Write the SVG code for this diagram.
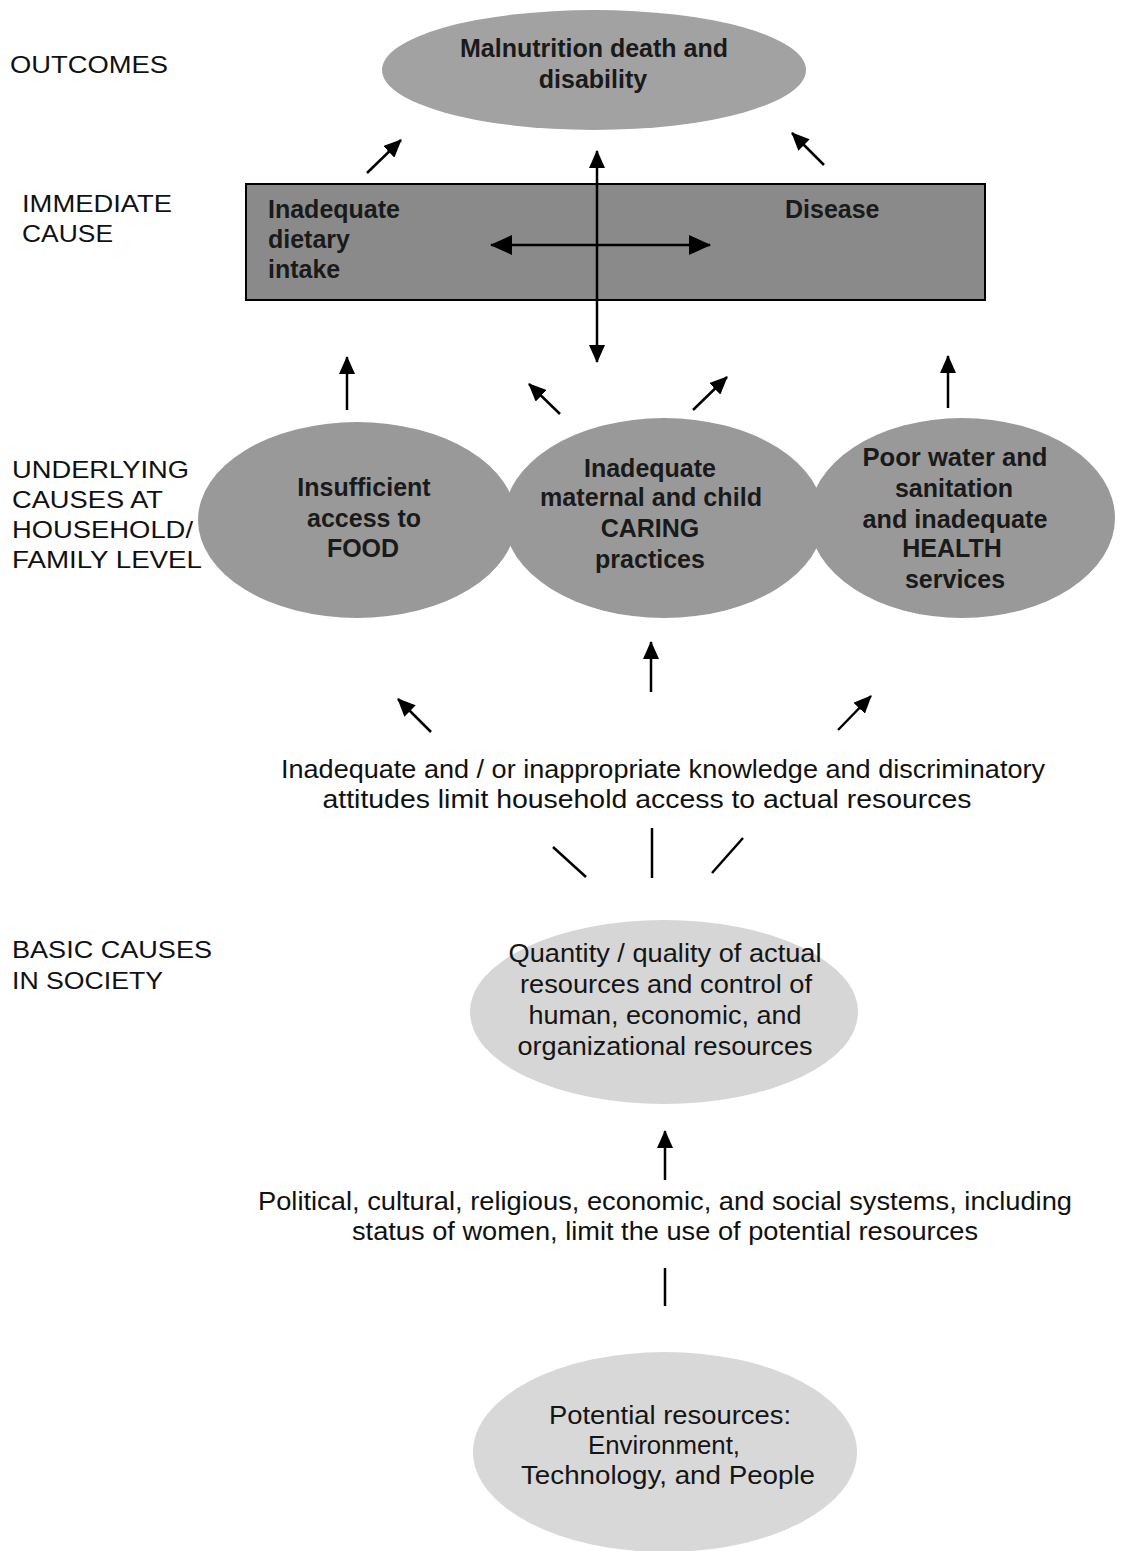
<svg xmlns="http://www.w3.org/2000/svg" width="1136" height="1551" viewBox="0 0 1136 1551">
<style>
text{font-family:"Liberation Sans",Arial,sans-serif;fill:#111}
.lbl{font-size:24px}
.nb{font-size:25px;font-weight:bold;fill:#1a1a1a;text-anchor:middle}
.nbl{font-size:25px;font-weight:bold;fill:#1a1a1a}
.body{font-size:25px;text-anchor:middle}
.lt{font-size:25px;text-anchor:middle;fill:#151515}
.conn{stroke:#000;stroke-width:2.5;fill:none}
</style>
<defs>
<marker id="ah" markerUnits="userSpaceOnUse" markerWidth="18" markerHeight="16" refX="17" refY="8" orient="auto-start-reverse" viewBox="0 0 18 16">
<path d="M0,0 L18,8 L0,16 z" fill="#000"/>
</marker>
<marker id="ahb" markerUnits="userSpaceOnUse" markerWidth="22" markerHeight="20" refX="21" refY="10" orient="auto-start-reverse" viewBox="0 0 22 20">
<path d="M0,0 L22,10 L0,20 z" fill="#000"/>
</marker>
</defs>

<g id="labels">
<text class="lbl" x="10" y="73" textLength="158" lengthAdjust="spacingAndGlyphs">OUTCOMES</text>
<text class="lbl" x="22" y="212" textLength="150" lengthAdjust="spacingAndGlyphs">IMMEDIATE</text>
<text class="lbl" x="22" y="242" textLength="91" lengthAdjust="spacingAndGlyphs">CAUSE</text>
<text class="lbl" x="12" y="478" textLength="177" lengthAdjust="spacingAndGlyphs">UNDERLYING</text>
<text class="lbl" x="12" y="508" textLength="151" lengthAdjust="spacingAndGlyphs">CAUSES AT</text>
<text class="lbl" x="12" y="538" textLength="181" lengthAdjust="spacingAndGlyphs">HOUSEHOLD/</text>
<text class="lbl" x="12" y="568" textLength="190" lengthAdjust="spacingAndGlyphs">FAMILY LEVEL</text>
<text class="lbl" x="12" y="958" textLength="200" lengthAdjust="spacingAndGlyphs">BASIC CAUSES</text>
<text class="lbl" x="12" y="989" textLength="151" lengthAdjust="spacingAndGlyphs">IN SOCIETY</text>
</g>

<g id="outcome">
<ellipse cx="594" cy="70" rx="212" ry="60" fill="#a2a2a2"/>
<text class="nb" x="594" y="57" textLength="268" lengthAdjust="spacingAndGlyphs">Malnutrition death and</text>
<text class="nb" x="593" y="88">disability</text>
</g>

<g id="immediate">
<rect x="246" y="184" width="739" height="116" fill="#8a8a8a" stroke="#000" stroke-width="2"/>
<text class="nbl" x="268" y="218" textLength="132" lengthAdjust="spacingAndGlyphs">Inadequate</text>
<text class="nbl" x="268" y="248">dietary</text>
<text class="nbl" x="268" y="278">intake</text>
<text class="nbl" x="785" y="218">Disease</text>
</g>

<g id="food">
<ellipse cx="357" cy="520" rx="159" ry="98" fill="#999999"/>
<text class="nb" x="364" y="496">Insufficient</text>
<text class="nb" x="364" y="527">access to</text>
<text class="nb" x="363" y="557">FOOD</text>
</g>
<g id="caring">
<ellipse cx="664" cy="518" rx="160" ry="100" fill="#999999"/>
<text class="nb" x="650" y="477">Inadequate</text>
<text class="nb" x="651" y="506" textLength="222" lengthAdjust="spacingAndGlyphs">maternal and child</text>
<text class="nb" x="650" y="537">CARING</text>
<text class="nb" x="650" y="568">practices</text>
</g>
<g id="health">
<ellipse cx="962" cy="518" rx="153" ry="100" fill="#999999"/>
<text class="nb" x="955" y="466" textLength="185" lengthAdjust="spacingAndGlyphs">Poor water and</text>
<text class="nb" x="954" y="497">sanitation</text>
<text class="nb" x="955" y="528" textLength="185" lengthAdjust="spacingAndGlyphs">and inadequate</text>
<text class="nb" x="952" y="557">HEALTH</text>
<text class="nb" x="955" y="588">services</text>
</g>

<g id="knowledge">
<text class="body" x="663" y="778" textLength="764" lengthAdjust="spacingAndGlyphs">Inadequate and / or inappropriate knowledge and discriminatory</text>
<text class="body" x="647" y="808" textLength="649" lengthAdjust="spacingAndGlyphs">attitudes limit household access to actual resources</text>
</g>

<g id="actual-resources">
<ellipse cx="664" cy="1012" rx="194" ry="92" fill="#d6d6d6"/>
<text class="lt" x="665" y="962" textLength="313" lengthAdjust="spacingAndGlyphs">Quantity / quality of actual</text>
<text class="lt" x="666" y="993" textLength="292" lengthAdjust="spacingAndGlyphs">resources and control of</text>
<text class="lt" x="665" y="1024" textLength="273" lengthAdjust="spacingAndGlyphs">human, economic, and</text>
<text class="lt" x="665" y="1055" textLength="295" lengthAdjust="spacingAndGlyphs">organizational resources</text>
</g>

<g id="systems">
<text class="body" x="665" y="1210" textLength="814" lengthAdjust="spacingAndGlyphs">Political, cultural, religious, economic, and social systems, including</text>
<text class="body" x="665" y="1240" textLength="626" lengthAdjust="spacingAndGlyphs">status of women, limit the use of potential resources</text>
</g>

<g id="potential">
<ellipse cx="665" cy="1452" rx="192" ry="100" fill="#d8d8d8"/>
<text class="lt" x="670" y="1424" textLength="242" lengthAdjust="spacingAndGlyphs">Potential resources:</text>
<text class="lt" x="664" y="1454" textLength="152" lengthAdjust="spacingAndGlyphs">Environment,</text>
<text class="lt" x="668" y="1484" textLength="294" lengthAdjust="spacingAndGlyphs">Technology, and People</text>
</g>

<g id="connectors">
<line class="conn" x1="367" y1="173" x2="401" y2="140" marker-end="url(#ah)"/>
<line class="conn" x1="824" y1="165" x2="792" y2="133" marker-end="url(#ah)"/>
<line class="conn" x1="597" y1="151" x2="597" y2="362" marker-start="url(#ah)" marker-end="url(#ah)"/>
<line class="conn" x1="491" y1="245" x2="710" y2="245" stroke-width="3" marker-start="url(#ahb)" marker-end="url(#ahb)"/>
<line class="conn" x1="347" y1="410" x2="347" y2="357" marker-end="url(#ah)"/>
<line class="conn" x1="560" y1="414" x2="529" y2="384" marker-end="url(#ah)"/>
<line class="conn" x1="693" y1="410" x2="727" y2="377" marker-end="url(#ah)"/>
<line class="conn" x1="948" y1="408" x2="948" y2="356" marker-end="url(#ah)"/>
<line class="conn" x1="431" y1="732" x2="398" y2="699" marker-end="url(#ah)"/>
<line class="conn" x1="651" y1="692" x2="651" y2="642" marker-end="url(#ah)"/>
<line class="conn" x1="838" y1="730" x2="871" y2="696" marker-end="url(#ah)"/>
<line class="conn" x1="553" y1="847" x2="586" y2="877" stroke-width="2"/>
<line class="conn" x1="652" y1="828" x2="652" y2="878" stroke-width="2"/>
<line class="conn" x1="743" y1="838" x2="712" y2="873" stroke-width="2"/>
<line class="conn" x1="665" y1="1180" x2="665" y2="1131" marker-end="url(#ah)"/>
<line class="conn" x1="665" y1="1268" x2="665" y2="1306" stroke-width="2"/>
</g>
</svg>
